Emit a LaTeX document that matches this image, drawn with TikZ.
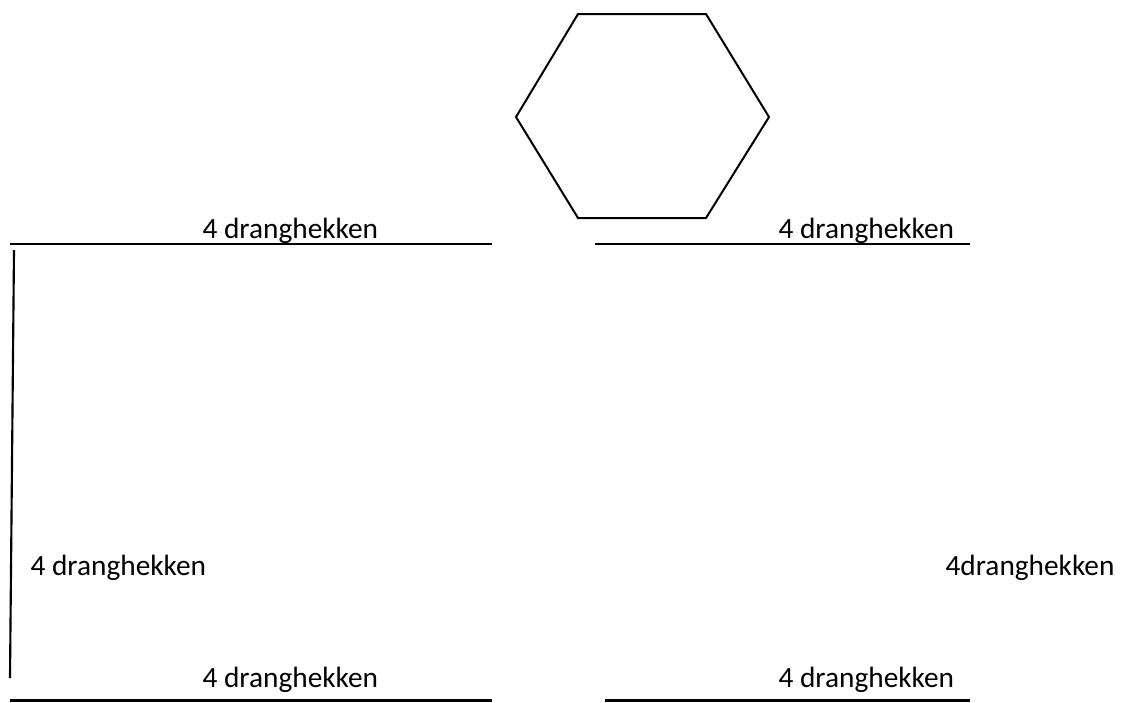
\documentclass[tikz,border=0pt]{standalone}
\usepackage{fontspec}
\setmainfont{Carlito}
\usepackage{tikz}
\usetikzlibrary{positioning}

\begin{document}
\begin{tikzpicture}[
    x=0.375pt, y=-0.375pt,
    font=\fontsize{11}{13}\selectfont,
    hektext/.style={
        anchor=base west,
        inner sep=0pt
    },
    fence/.style={line width=0.8pt},
    hexline/.style={line width=0.75pt, line join=miter}
]
\useasboundingbox (0, 0) rectangle (1147, 702);

\draw[hexline] (578, 14) -- (706, 14) -- (769, 117) -- (706, 218)
    -- (578, 218) -- (516, 117) -- cycle;

\node[hektext] (topleft)  at (202, 238) {4 dranghekken};
\node[hektext] (topright) at (778, 238) {4 dranghekken};
\node[hektext] (midleft)  at (30, 575)  {4 dranghekken};
\node[hektext] (midright) at (945, 575) {4dranghekken};
\node[hektext] (botleft)  at (202, 687) {4 dranghekken};
\node[hektext] (botright) at (778, 687) {4 dranghekken};

\draw[fence] (10, 244) -- (492, 244);
\draw[fence] (595, 244) -- (970, 244);
\draw[fence] (14, 250) -- (10, 678);
\draw[fence] (10, 700.5) -- (492, 700.5);
\draw[fence] (605, 700.5) -- (970, 700.5);

\end{tikzpicture}
\end{document}
